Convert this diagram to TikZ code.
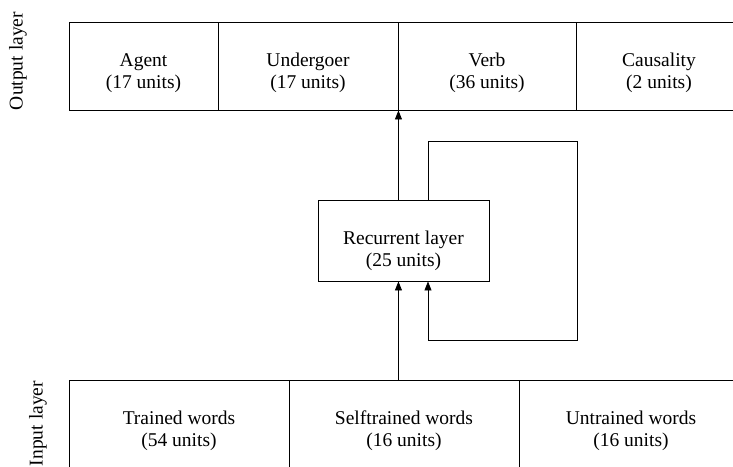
\documentclass[tikz,border=0pt]{standalone}
\usepackage{fontspec}
\setmainfont{Liberation Serif}
\usetikzlibrary{arrows.meta}
\begin{document}
\begin{tikzpicture}[x=1pt,y=-1pt,
  txt/.style={inner sep=0pt,align=center,font=\fontsize{19.5}{22}\selectfont},
  cell/.style={draw,line width=0.9pt,minimum height=88pt,inner sep=0pt},
  lbl/.style={rotate=90,inner sep=0pt,font=\fontsize{19.5}{22}\selectfont},
  arr/.style={line width=0.9pt,-{Triangle[length=9pt,width=7pt]}}]
\useasboundingbox (0,0) rectangle (733,466);
\clip (0,0) rectangle (733,466);

% output layer
\node[cell,minimum width=149pt,label={[txt,yshift=-7pt]center:Agent\\(17 units)}] (agent) at (143.5,66) {};
\node[cell,minimum width=180pt,label={[txt,yshift=-7pt]center:Undergoer\\(17 units)}] (under) at (308,66) {};
\node[cell,minimum width=178pt,label={[txt,yshift=-7pt]center:Verb\\(36 units)}] (verb) at (487,66) {};
\node[cell,minimum width=166pt,label={[txt,yshift=-7pt]center:Causality\\(2 units)}] (caus) at (659,66) {};

% recurrent layer
\node[cell,minimum width=171pt,minimum height=81pt,
  label={[txt,yshift=-10pt]center:Recurrent layer\\(25 units)}] (rec) at (403.5,240.5) {};

% input layer
\node[cell,minimum width=220pt,label={[txt,yshift=-7pt]center:Trained words\\(54 units)}] (trained) at (179,424) {};
\node[cell,minimum width=230pt,label={[txt,yshift=-7pt]center:Selftrained words\\(16 units)}] (self) at (404,424) {};
\node[cell,minimum width=224pt,label={[txt,yshift=-7pt]center:Untrained words\\(16 units)}] (untr) at (631,424) {};

% side labels
\node[lbl] (outlbl) at (18,61) {Output layer};
\node[lbl] (inlbl)  at (38,423.5) {Input layer};

% feed-forward connections
\draw[arr] (under.east |- self.north) -- (under.east |- rec.south);
\draw[arr] (under.east |- rec.north) -- (under.south east);

% recurrent loop
\coordinate (lt) at (428,141);
\coordinate (rb) at (577,340);
\draw[arr] (lt |- rec.north) -- (lt) -- (rb |- lt) -- (rb) -- (lt |- rb) -- (lt |- rec.south);
\end{tikzpicture}
\end{document}
